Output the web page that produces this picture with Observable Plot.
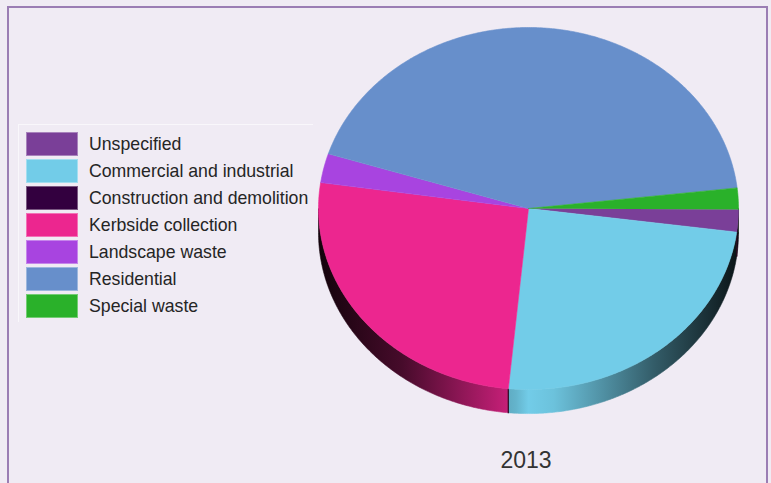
<!DOCTYPE html>
<html>
<head>
<meta charset="utf-8">
<script src="https://cdn.jsdelivr.net/npm/d3@7"></script>
<script src="https://cdn.jsdelivr.net/npm/@observablehq/plot@0.6"></script>
<style>
html, body { margin: 0; padding: 0; background: #f0ebf4; width: 771px; height: 483px; overflow: hidden; font-family: "Liberation Sans", Arial, sans-serif; }
#frame { position: absolute; left: 7px; top: 6px; width: 761px; height: 540px; border: 2px solid #9b7db4; box-sizing: border-box; }
#chart { position: absolute; left: 0; top: 0; }
#legend { position: absolute; left: 18px; top: 124px; width: 295px; height: 198px; border-top: 1px solid rgba(255,255,255,0.6); border-left: 1px solid rgba(255,255,255,0.6); box-sizing: border-box; }
.item { position: absolute; left: 7px; height: 24px; width: 290px; }
.sw { position: absolute; left: 0; top: 0; width: 52px; height: 24px; box-sizing: border-box; border: 1px solid rgba(255,255,255,0.35); }
.lb { position: absolute; left: 63px; top: 0; line-height: 24px; font-size: 17.7px; color: #252525; white-space: nowrap; }
#title { position: absolute; left: 426px; width: 200px; top: 447px; text-align: center; font-size: 23px; color: #333; }
</style>
</head>
<body>
<div id="frame"></div>
<div id="chart"></div>
<div id="legend"></div>
<div id="title"></div>
<script>
// ---- data ----
const categories = ["Unspecified", "Commercial and industrial", "Construction and demolition", "Kerbside collection", "Landscape waste", "Residential", "Special waste"];
const shares = [2.0, 24.45, 0, 25.75, 2.6, 43.3, 1.9];
const colors = ["#7a3f98", "#72cce8", "#33003f", "#ec268f", "#a844e0", "#678fcb", "#2ab12a"];
const year = "2013";

// ---- geometry derived from data ----
const startAngle = 0.3 * Math.PI / 180; // just below 3 o'clock, clockwise
const depth = 0.133;
const total = d3.sum(shares);
let acc = 0;
const slices = categories.map((c, i) => {
  const t0 = startAngle + acc / total * 2 * Math.PI;
  acc += shares[i];
  const t1 = startAngle + acc / total * 2 * Math.PI;
  return {key: c, i, t0, t1, color: colors[i]};
});

function arcPts(a, b, dy = 0) {
  const n = Math.max(2, Math.ceil((b - a) / (Math.PI / 360)));
  return d3.range(n + 1).map(k => {
    const t = a + (b - a) * k / n;
    return {x: Math.cos(t), y: Math.sin(t) + dy};
  });
}

const marks = [];
// sides (visible front half: angles 0..PI, and 2PI..3PI)
slices.forEach(s => {
  if (s.t1 - s.t0 <= 0) return;
  [[0, Math.PI], [2 * Math.PI, 3 * Math.PI]].forEach(([lo, hi]) => {
    const a = Math.max(s.t0, lo), b = Math.min(s.t1, hi);
    if (b <= a) return;
    const pts = arcPts(a, b).concat(arcPts(a, b, depth).reverse());
    marks.push(Plot.line(pts, {x: "x", y: "y", fill: `url(#side${s.i})`, stroke: `url(#side${s.i})`, strokeWidth: 0.6}));
  });
});
// side edges at visible slice boundaries
slices.forEach(s => {
  if (s.t1 - s.t0 <= 0) return;
  const t = s.t0;
  if (t > 0.02 && t < Math.PI - 0.02) {
    marks.push(Plot.line([{x: Math.cos(t), y: Math.sin(t)}, {x: Math.cos(t), y: Math.sin(t) + depth}], {x: "x", y: "y", stroke: "#2a0a20", strokeWidth: 1.2}));
  }
});
// top faces
slices.forEach(s => {
  if (s.t1 - s.t0 <= 0) return;
  const pts = [{x: 0, y: 0}].concat(arcPts(s.t0, s.t1));
  marks.push(Plot.line(pts, {x: "x", y: "y", fill: s.color, stroke: s.color, strokeWidth: 0.6}));
});

const plot = Plot.plot({
  width: 771,
  height: 483,
  style: {background: "transparent", overflow: "visible"},
  x: {domain: [-1, 1], range: [318, 738], axis: null},
  y: {domain: [-1, 1], range: [27, 389], axis: null},
  marks
});

// gradients for the side shading
const sx = plot.scale("x");
const ns = "http://www.w3.org/2000/svg";
const defs = document.createElementNS(ns, "defs");
slices.forEach(s => {
  const g = document.createElementNS(ns, "linearGradient");
  g.setAttribute("id", `side${s.i}`);
  g.setAttribute("gradientUnits", "userSpaceOnUse");
  g.setAttribute("x1", sx.apply(-1)); g.setAttribute("x2", sx.apply(1));
  g.setAttribute("y1", 0); g.setAttribute("y2", 0);
  const base = d3.rgb(s.color);
  const stops = [[0, 0.08], [0.2, 0.3], [0.47, 0.88], [0.5, 1.0], [0.56, 0.95], [0.8, 0.45], [1, 0.1]];
  stops.forEach(([o, k]) => {
    const st = document.createElementNS(ns, "stop");
    st.setAttribute("offset", o);
    st.setAttribute("stop-color", d3.rgb(base.r * k, base.g * k, base.b * k).formatHex());
    g.appendChild(st);
  });
  defs.appendChild(g);
});
plot.insertBefore(defs, plot.firstChild);
document.getElementById("chart").appendChild(plot);

// legend
const legend = document.getElementById("legend");
categories.forEach((c, i) => {
  const it = document.createElement("div");
  it.className = "item";
  it.style.top = (7 + 27 * i) + "px";
  it.innerHTML = `<div class="sw" style="background:${colors[i]}"></div><div class="lb">${c}</div>`;
  legend.appendChild(it);
});
document.getElementById("title").textContent = year;
</script>
</body>
</html>
